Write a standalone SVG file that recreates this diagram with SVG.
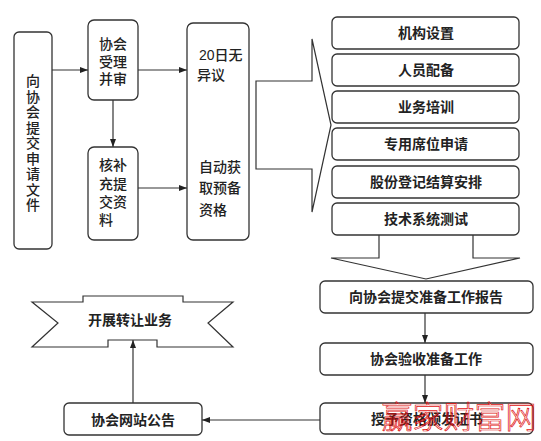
<svg xmlns="http://www.w3.org/2000/svg" width="541" height="441" viewBox="0 0 541 441">
<defs>
<marker id="ah" markerUnits="userSpaceOnUse" markerWidth="8" markerHeight="6" refX="8" refY="3" orient="auto">
<path d="M0,0 L8,3 L0,6 z" fill="#222"/>
</marker>
<style>
.box{fill:#fff;stroke:#333;stroke-width:1.3}
.ln{fill:none;stroke:#333;stroke-width:1.2}
.blk{fill:#fff;stroke:#333;stroke-width:1.2;stroke-linejoin:miter}
.t{font-family:"Liberation Sans","Noto Sans CJK SC",sans-serif;fill:#222;font-size:14px;font-weight:500}
.tb{font-family:"Noto Sans CJK SC","Liberation Sans",sans-serif;fill:#222;font-size:14px;font-weight:bold;text-anchor:middle}
.wm{font-family:"Noto Sans CJK SC",sans-serif;font-size:31px;font-weight:300;fill:none;stroke:#e01010;stroke-width:0.7;text-anchor:middle}
</style>
</defs>
<rect width="541" height="441" fill="#fff"/>
<g id="connectors">
<path class="ln" d="M52,70 H88" marker-end="url(#ah)"/>
<path class="ln" d="M138,70 H187" marker-end="url(#ah)"/>
<path class="ln" d="M113,100 V147" marker-end="url(#ah)"/>
<path class="ln" d="M138,188 H187" marker-end="url(#ah)"/>
<path class="blk" d="M256,81 H312 V39 L331,125 L312,212 V169 H256 Z"/>
<path class="blk" d="M379,235 V258 H331 L426,279 L520,258 H473 V235"/>
<path class="ln" d="M425,313 V343" marker-end="url(#ah)"/>
<path class="ln" d="M425,375 V403" marker-end="url(#ah)"/>
<path class="ln" d="M320,420 H202" marker-end="url(#ah)"/>
<path class="ln" d="M133,403 V340" marker-end="url(#ah)"/>
</g>
<g id="n-apply">
<rect class="box" x="14" y="32" width="38" height="217" rx="5"/>
<text class="t" x="33" y="74" style="font-family:'Noto Sans CJK SC',sans-serif;writing-mode:vertical-rl;letter-spacing:1.5px">向协会提交申请文件</text>
</g>
<g id="n-accept">
<rect class="box" x="88" y="20" width="50" height="80" rx="6"/>
<text class="t"><tspan x="99" y="49">协会</tspan><tspan x="99" y="67">受理</tspan><tspan x="99" y="84">并审</tspan></text>
</g>
<g id="n-supplement">
<rect class="box" x="88" y="147" width="50" height="93" rx="6"/>
<text class="t"><tspan x="99" y="170">核补</tspan><tspan x="99" y="189">充提</tspan><tspan x="99" y="207">交资</tspan><tspan x="99" y="225">料</tspan></text>
</g>
<g id="n-qualify">
<rect class="box" x="187" y="23" width="62" height="217" rx="6"/>
<text class="t"><tspan x="199" y="60">20日无</tspan><tspan x="197" y="80">异议</tspan><tspan x="199" y="172">自动获</tspan><tspan x="199" y="193">取预备</tspan><tspan x="199" y="215">资格</tspan></text>
</g>
<g id="n-org"><rect class="box" x="332" y="17" width="187" height="32" rx="5"/><text class="tb" x="426" y="38">机构设置</text></g>
<g id="n-staff"><rect class="box" x="332" y="54" width="187" height="32" rx="5"/><text class="tb" x="426" y="75">人员配备</text></g>
<g id="n-train"><rect class="box" x="332" y="91" width="187" height="32" rx="5"/><text class="tb" x="426" y="112">业务培训</text></g>
<g id="n-seat"><rect class="box" x="332" y="128" width="187" height="32" rx="5"/><text class="tb" x="426" y="149">专用席位申请</text></g>
<g id="n-settle"><rect class="box" x="332" y="166" width="187" height="32" rx="5"/><text class="tb" x="426" y="187">股份登记结算安排</text></g>
<g id="n-test"><rect class="box" x="332" y="203" width="187" height="32" rx="5"/><text class="tb" x="426" y="224">技术系统测试</text></g>
<g id="n-report"><rect class="box" x="320" y="281" width="213" height="32" rx="5"/><text class="tb" x="426" y="302">向协会提交准备工作报告</text></g>
<g id="n-check"><rect class="box" x="320" y="343" width="213" height="32" rx="5"/><text class="tb" x="426" y="364">协会验收准备工作</text></g>
<g id="n-cert"><rect class="box" x="320" y="403" width="213" height="31" rx="5"/><text class="tb" x="427" y="424">授予资格颁发证书</text></g>
<g id="n-notice"><rect class="box" x="64" y="403" width="138" height="32" rx="5"/><text class="tb" x="133" y="425">协会网站公告</text></g>
<g id="n-business">
<path class="blk" d="M32,302 H83 V296 H183 V302 H233 L208,323 L233,347 H157 V340 H108 V347 H32 L58,323 Z"/>
<text class="tb" x="130" y="325">开展转让业务</text>
</g>
<text class="wm" x="459" y="428">赢家财富网</text>
</svg>
